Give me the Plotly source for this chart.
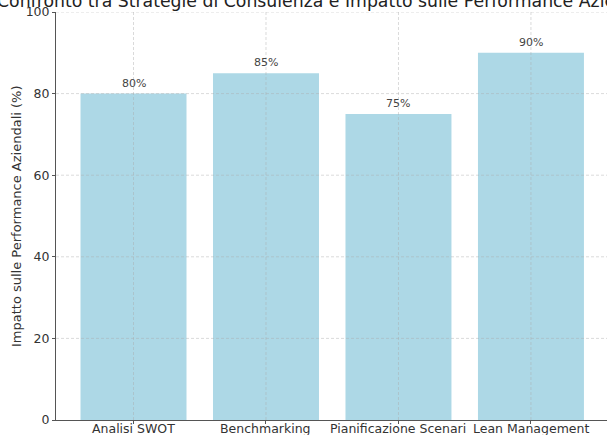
import plotly.graph_objects as go

categories = ["Analisi SWOT", "Benchmarking", "Pianificazione Scenari", "Lean Management"]
impact_values = [80, 85, 75, 90]
value_labels = ["80%", "85%", "75%", "90%"]
y_ticks = [0, 20, 40, 60, 80, 100]

title_text = "Confronto tra Strategie di Consulenza e Impatto sulle Performance Aziendali"
y_title = "Impatto sulle Performance Aziendali (%)"

FONT = "DejaVu Sans"
xpos = list(range(len(categories)))

fig = go.Figure()
fig.add_trace(go.Bar(
    x=xpos, y=impact_values, width=0.8,
    marker=dict(color="#ADD8E6", line=dict(width=0)),
    hoverinfo="skip",
))

grid_color = "rgba(170,170,170,0.55)"
shapes = []
for xv in xpos:
    shapes.append(dict(type="line", xref="x", yref="paper", x0=xv, x1=xv, y0=0, y1=1,
                       line=dict(color=grid_color, width=0.8, dash="3px,2px"), layer="above"))
for yv in y_ticks[1:]:
    shapes.append(dict(type="line", xref="paper", yref="y", x0=0, x1=1, y0=yv, y1=yv,
                       line=dict(color=grid_color, width=0.8, dash="3px,2px"), layer="above"))

annotations = []
for xv, v, lab in zip(xpos, impact_values, value_labels):
    annotations.append(dict(x=xv, y=v, xref="x", yref="y", text=lab, showarrow=False,
                            yanchor="bottom", yshift=2,
                            font=dict(family=FONT, size=11, color="#444")))
for xv, cat in zip(xpos, categories):
    annotations.append(dict(x=xv, y=0, xref="x", yref="paper", text=cat, showarrow=False,
                            yanchor="top", yshift=1,
                            font=dict(family=FONT, size=12.5, color="#333")))
annotations.append(dict(x=0.5, y=1, xref="paper", yref="paper", text=title_text,
                        showarrow=False, yanchor="bottom", yshift=-1, xshift=-5,
                        font=dict(family=FONT, size=17.3, color="#222")))
annotations.append(dict(x=0, y=0.5, xref="paper", yref="paper", text=y_title,
                        showarrow=False, textangle=-90, xanchor="center", xshift=-40,
                        font=dict(family=FONT, size=13, color="#333")))

fig.update_layout(
    width=607, height=435,
    margin=dict(l=56, r=0, t=12, b=14.5, autoexpand=False),
    paper_bgcolor="white", plot_bgcolor="white",
    showlegend=False,
    shapes=shapes, annotations=annotations,
    font=dict(family=FONT, color="#333"),
)
fig.update_xaxes(
    range=[-0.585, 3.574],
    tickmode="array", tickvals=xpos, showticklabels=False,
    showgrid=False, zeroline=False,
    showline=True, linecolor="#555", linewidth=1,
    ticks="outside", ticklen=3, tickcolor="#555", automargin=False,
)
fig.update_yaxes(
    range=[0, 100],
    tickmode="array", tickvals=y_ticks,
    tickfont=dict(family=FONT, size=12.5, color="#333"),
    showgrid=False, zeroline=False,
    showline=True, linecolor="#555", linewidth=1,
    ticks="outside", ticklen=3, tickcolor="#555", automargin=False,
)

fig.write_html("out.html", config={"displayModeBar": False},
               post_script="document.body.style.margin='0';document.body.style.overflow='hidden';")
